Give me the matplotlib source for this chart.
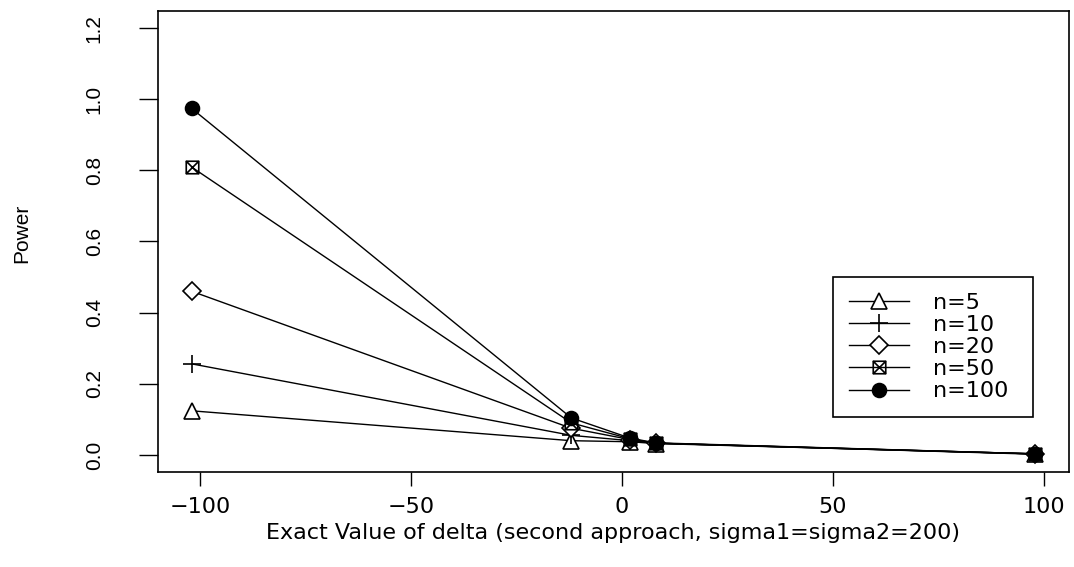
import matplotlib
matplotlib.use("Agg")
import matplotlib.pyplot as plt
from matplotlib.path import Path

plt.rcParams["font.family"] = ["DejaVu Sans"]

# Data
delta = [-102, -12, 2, 8, 98]
power_n5 = [0.124, 0.040, 0.037, 0.032, 0.003]
power_n10 = [0.256, 0.055, 0.040, 0.033, 0.003]
power_n20 = [0.460, 0.075, 0.043, 0.033, 0.003]
power_n50 = [0.809, 0.090, 0.045, 0.033, 0.002]
power_n100 = [0.974, 0.104, 0.047, 0.034, 0.003]
labels = ["n=5", "n=10", "n=20", "n=50", "n=100"]

# R pch 7: square with a cross inside
box_x = Path([(-1, -1), (1, -1), (1, 1), (-1, 1), (-1, -1),
              (-1, -1), (1, 1), (-1, 1), (1, -1)],
             [Path.MOVETO, Path.LINETO, Path.LINETO, Path.LINETO, Path.CLOSEPOLY,
              Path.MOVETO, Path.LINETO, Path.MOVETO, Path.LINETO])

series = [power_n5, power_n10, power_n20, power_n50, power_n100]
styles = [
    dict(marker="^", markersize=11, markerfacecolor="white"),
    dict(marker="+", markersize=13),
    dict(marker="D", markersize=9, markerfacecolor="white"),
    dict(marker=box_x, markersize=9, markerfacecolor="none"),
    dict(marker="o", markersize=10, markerfacecolor="black"),
]

fig = plt.figure(figsize=(10.74, 5.67), dpi=100)
ax = fig.add_axes([158 / 1074, 1 - 472 / 567, (1069 - 158) / 1074, (472 - 11) / 567])

for vals, lab, st in zip(series, labels, styles):
    ax.plot(delta, vals, color="black", lw=1, markeredgecolor="black",
            markeredgewidth=1.2, label=lab, **st)

ax.set_xlim(-110, 106)
ax.set_ylim(-0.048, 1.248)
ax.set_xticks([-100, -50, 0, 50, 100])
ax.set_xticklabels(["\u2212100", "\u221250", "0", "50", "100"], fontsize=16)
ax.set_yticks([0.0, 0.2, 0.4, 0.6, 0.8, 1.0, 1.2])
ax.set_yticklabels(["0.0", "0.2", "0.4", "0.6", "0.8", "1.0", "1.2"], rotation=90,
                   va="center", fontsize=15, family="Liberation Sans")
ax.tick_params(axis="x", length=10, width=1, pad=8)
ax.tick_params(axis="y", length=14, width=1, pad=25)
for s in ax.spines.values():
    s.set_linewidth(1.2)

ax.set_xlabel("Exact Value of delta (second approach, sigma1=sigma2=200)", fontsize=16)
ax.xaxis.set_label_coords(0.5, -0.11)
ax.set_ylabel("Power", fontsize=15, family="Liberation Sans")
ax.yaxis.set_label_coords(-0.139, 0.518)

leg = ax.legend(loc="upper left", mode="expand",
                bbox_to_anchor=(833 / 1074, 1 - 414 / 567, 200 / 1074, 137 / 567),
                bbox_transform=fig.transFigure, fontsize=16, frameon=True,
                fancybox=False, edgecolor="black", framealpha=1,
                handlelength=2.7, handletextpad=1.1, labelspacing=0.1,
                borderpad=0.7, borderaxespad=0)
leg.get_frame().set_linewidth(1.2)

fig.savefig("out.png", dpi=100)
